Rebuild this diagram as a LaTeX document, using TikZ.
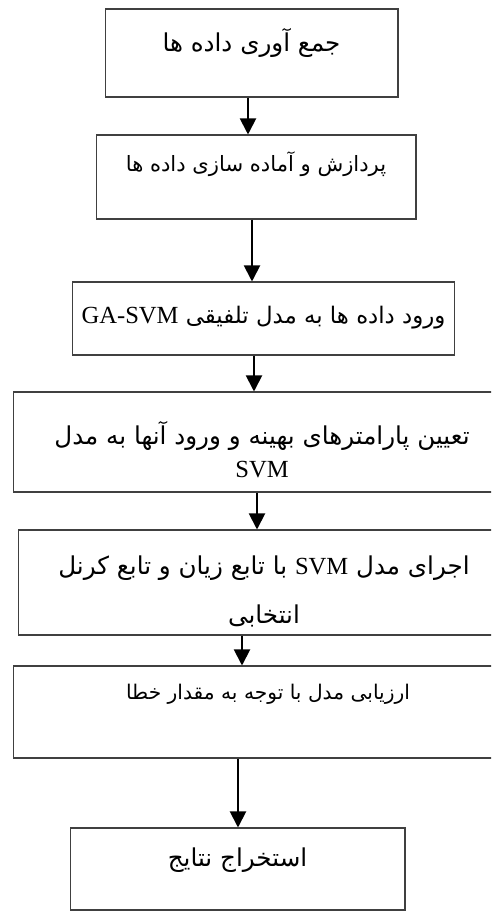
\documentclass[tikz,border=0pt]{standalone}
\usepackage{fontspec}
\setmainfont{Liberation Serif}
\newfontfamily\farsi[Script=Arabic]{DejaVu Sans}
\TeXXeTstate=1
\usetikzlibrary{arrows.meta}

\newcommand{\fa}[1]{{\farsi\beginR #1\endR}}
\newcommand{\en}[1]{{\rmfamily\fontsize{14}{19}\selectfont\beginL #1\endL}}

\begin{document}
\begin{tikzpicture}[x=0.02cm, y=-0.02cm, >=Stealth, every node/.style={font=\farsi\fontsize{14}{19}\selectfont}]
  % Styles
  \tikzset{
    box/.style={draw=black!75, line width=0.6pt, align=center, inner sep=0pt},
    oneline/.style={box, text height=10.5pt},
    small/.style={font=\farsi\fontsize{12}{19}\selectfont},
    arrow/.style={-{Triangle[width=0.32cm,length=0.32cm]}, line width=1.1pt}
  }
  \clip (0,0) rectangle (491,912);

  % Nodes
  \node[oneline, minimum width=5.86cm, minimum height=1.76cm, text depth=12pt] (collect) at (251.5,53) {\fa{جمع آوری داده ها}};
  \node[oneline, small, minimum width=6.4cm, minimum height=1.68cm, text depth=17pt] (prep) at (256,177) {\fa{پردازش و آماده سازی داده ها}};
  \node[oneline, minimum width=7.66cm, minimum height=1.46cm, text depth=4.9pt, font=\farsi\fontsize{13}{19}\selectfont] (input) at (263.5,318.5) {\fa{ورود داده ها به مدل تلفیقی \en{GA-SVM}}};
  \node[box, minimum width=9.96cm, minimum height=2cm] (params) at (262,442) {\rule{0pt}{22pt}\fa{تعیین پارامترهای بهینه و ورود آنها به مدل}\\\en{SVM}};
  \node[box, minimum width=9.84cm, minimum height=2.1cm] (run) at (264,582.5) {\rule{0pt}{21pt}\fa{اجرای مدل \en{SVM} با تابع زیان و تابع کرنل}\\[9pt]\fa{انتخابی}};
  \node[oneline, minimum width=10.2cm, minimum height=1.84cm, text depth=24.2pt, font=\farsi\fontsize{11.5}{19}\selectfont] (eval) at (268,712) {\fa{ارزیابی مدل با توجه به مقدار خطا}};
  \node[oneline, minimum width=6.7cm, minimum height=1.64cm, text depth=12.8pt] (result) at (237.5,869) {\fa{استخراج نتایج}};

  % Arrows
  \draw[arrow] (248,0 |- collect.south) -- (248,0 |- prep.north);
  \draw[arrow] (252,0 |- prep.south) -- (252,0 |- input.north);
  \draw[arrow] (254,0 |- input.south) -- (254,0 |- params.north);
  \draw[arrow] (257,0 |- params.south) -- (257,0 |- run.north);
  \draw[arrow] (242,0 |- run.south) -- (242,0 |- eval.north);
  \draw[arrow] (238,0 |- eval.south) -- (238,0 |- result.north);
\end{tikzpicture}
\end{document}
